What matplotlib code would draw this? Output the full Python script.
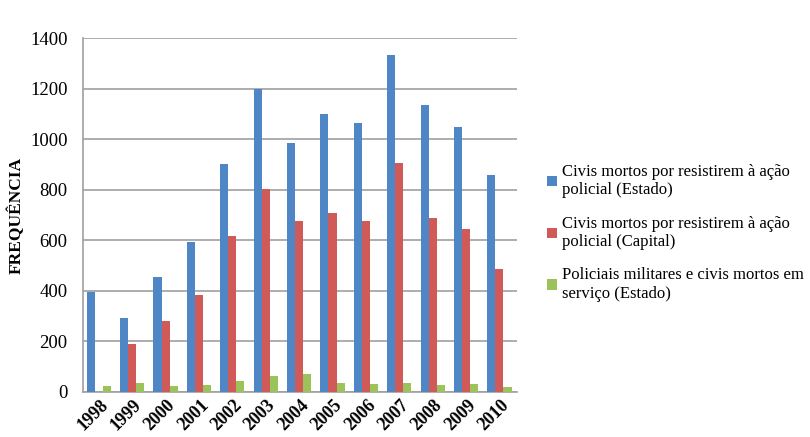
import matplotlib.pyplot as plt
import numpy as np

anos = ['1998', '1999', '2000', '2001', '2002', '2003', '2004',
        '2005', '2006', '2007', '2008', '2009', '2010']
civis_estado = [396, 291, 453, 593, 901, 1197, 983, 1098, 1062, 1331, 1137, 1049, 857]
civis_capital = [0, 190, 280, 382, 617, 801, 677, 709, 676, 904, 689, 644, 486]
policiais = [25, 35, 25, 28, 42, 63, 71, 36, 30, 36, 28, 30, 20]

rotulos = ['Civis mortos por resistirem à ação\npolicial (Estado)',
           'Civis mortos por resistirem à ação\npolicial (Capital)',
           'Policiais militares e civis mortos em\nserviço (Estado)']
cores = ['#4F86C6', '#CF5A57', '#9BC35A']

fig = plt.figure(figsize=(8.1, 4.37), dpi=100)
ax = fig.add_axes([0.1025, 0.103, 0.536, 0.81])

x = np.arange(len(anos))
w = 0.24
for i, (serie, cor, lbl) in enumerate(zip([civis_estado, civis_capital, policiais], cores, rotulos)):
    ax.bar(x + (i - 1) * w - 0.03, serie, width=w, color=cor, label=lbl, zorder=3)

ax.set_ylim(0, 1400)
ax.set_xlim(-0.5, len(anos) - 0.5)
ax.set_yticks(range(0, 1401, 200))
ax.yaxis.grid(True, color='#A0A0A0', linewidth=1.2, zorder=0)
for s in ['top', 'right']:
    ax.spines[s].set_visible(False)
for s in ['left', 'bottom']:
    ax.spines[s].set_color('#A0A0A0')
    ax.spines[s].set_linewidth(1.2)
ax.tick_params(axis='both', length=0)
ax.tick_params(axis='y', pad=11)
ax.tick_params(axis='x', pad=3)
ax.set_xticks(x)
ax.set_xticklabels(anos, rotation=45, ha='right', rotation_mode='anchor',
                   fontsize=13, fontweight='bold', family='Liberation Serif')
for t in ax.get_yticklabels():
    t.set_family('Liberation Serif')
    t.set_fontsize(13.5)

ax.set_ylabel('FREQUÊNCIA', fontsize=12.5, fontweight='bold', family='Liberation Serif')
ax.yaxis.set_label_coords(-0.134, 0.5)

leg = ax.legend(loc='center left', bbox_to_anchor=(1.035, 0.45), frameon=False,
                prop={'family': 'Liberation Serif', 'size': 12},
                handlelength=0.6, handleheight=0.6, handletextpad=0.3, labelspacing=1.05)

plt.savefig('out.png', dpi=100)
